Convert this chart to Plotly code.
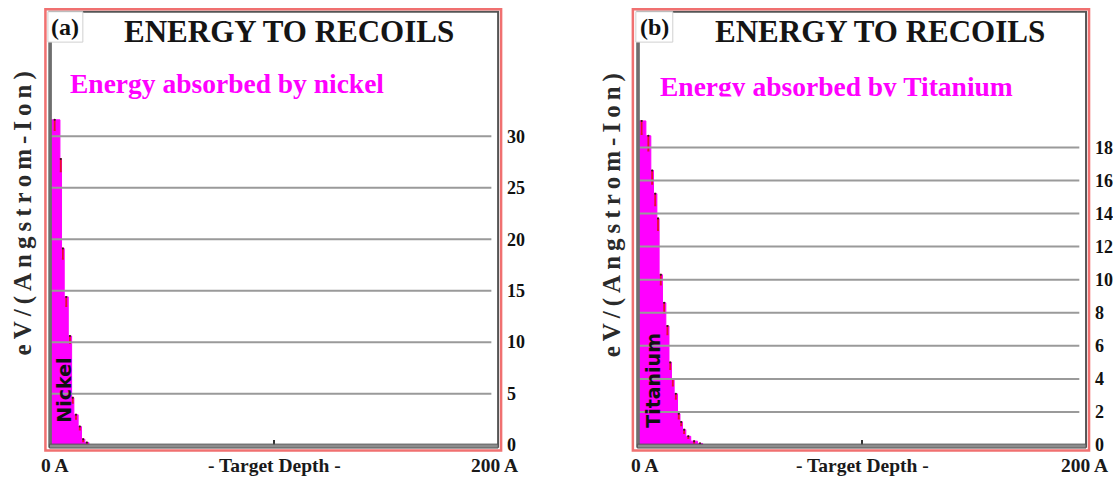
import plotly.graph_objects as go

# ---------------- data ----------------
# step profile: left edge of each depth segment (Angstrom) and energy (eV/(A-Ion))
depth_ni = [0, 4.7, 5.4, 6.6, 8.4, 9.9, 10.9, 12.8, 14.3, 15.8, 17.6]
energy_ni = [31.6, 27.8, 19.1, 14.4, 10.6, 4.6, 2.95, 1.8, 0.57, 0.25, 0]
err_ni = [1.0, 1.2, 1.0, 0.9, 0.7, 0.5, 0.4, 0.3, 0.2, 0.1]

depth_ti = [0, 3.8, 6.0, 7.2, 8.7, 9.7, 11.2, 12.7, 14.1, 15.2, 16.4, 17.9, 19.0, 20.1, 21.6, 23.8, 26.8, 29.1]
energy_ti = [19.6, 18.7, 16.6, 15.2, 13.7, 10.3, 8.6, 7.2, 5.0, 4.0, 3.1, 1.9, 1.4, 0.93, 0.53, 0.24, 0.1, 0]
err_ti = [0.8, 0.9, 0.8, 0.7, 0.7, 0.6, 0.6, 0.5, 0.4, 0.4, 0.3, 0.3, 0.2, 0.2, 0.1, 0.1, 0.1]

ticks_ni = [0, 5, 10, 15, 20, 25, 30]
ticks_ti = [0, 2, 4, 6, 8, 10, 12, 14, 16, 18]
x_ticks = [0, 100, 200]
x_labels = ["0 A", "- Target Depth -", "200 A"]

panel_tags = ["(a)", "(b)"]
titles = ["ENERGY TO RECOILS", "ENERGY TO RECOILS"]
subtitles = ["Energy absorbed by nickel", "Energy absorbed by Titanium"]
layer_names = ["Nickel", "Titanium"]
y_title = "eV/(Angstrom-Ion)"

# ---------------- layout helpers ----------------
W, H = 1113, 484
def px(x):
    return x / W
def py(y):
    return 1 - y / H

SERIF = "Liberation Serif, Times New Roman, serif"
MAGENTA = "#ff00ff"
THIN = "\u2009"

fig = go.Figure()

panels = [
    dict(xa="x", ya="y", left=49.5, right=499, red=(45.5, 502), ymax=42.1,
         depth=depth_ni, energy=energy_ni, err=err_ni, ticks=ticks_ni,
         tag_box=(48, 83), title_x=290, sub_x=68, sub_y=85, ytitle_x=24, ytitle_y=218,
         layer_xy=(64, 398), lab_x=(55, 275, 495), clip=False),
    dict(xa="x2", ya="y2", left=638.5, right=1088, red=(634, 1091), ymax=26.2,
         depth=depth_ti, energy=energy_ti, err=err_ti, ticks=ticks_ti,
         tag_box=(637, 674), title_x=882, sub_x=659, sub_y=88, ytitle_x=614, ytitle_y=220,
         layer_xy=(654, 388), lab_x=(646, 864, 1086), clip=True),
]

TOP, BOTTOM = 12, 454.5
shapes = []
annotations = []

for i, p in enumerate(panels):
    # filled step profile
    fig.add_trace(go.Scatter(
        x=p["depth"], y=p["energy"], xaxis=p["xa"], yaxis=p["ya"],
        mode="lines", line=dict(shape="hv", color=MAGENTA, width=1),
        fill="tozeroy", fillcolor=MAGENTA, showlegend=False, hoverinfo="skip"))
    # error markers at segment centres (drawn downward from the bin top)
    mids = [(a + b) / 2 for a, b in zip(p["depth"][:-1], p["depth"][1:])]
    fig.add_trace(go.Scatter(
        x=mids, y=p["energy"][:-1], xaxis=p["xa"], yaxis=p["ya"],
        mode="markers", marker=dict(size=2, color="#222"),
        error_y=dict(type="data", symmetric=False, array=[0] * len(p["err"]),
                     arrayminus=p["err"], color="#e8102e", thickness=1.8, width=1),
        showlegend=False, hoverinfo="skip"))

    xref = p["xa"]
    yref = p["ya"]
    # gridlines drawn over the fill
    for t in p["ticks"][1:]:
        shapes.append(dict(type="line", xref=xref, yref=yref, x0=0, x1=197, y0=t, y1=t,
                           line=dict(color="#9a9a9a", width=2), layer="above"))
    # plot frame (bevelled)
    L, R = p["left"], p["right"]
    shapes.append(dict(type="rect", xref="paper", yref="paper",
                       x0=px(L), x1=px(R), y0=py(456), y1=py(TOP),
                       line=dict(color="#555555", width=2), layer="above"))
    shapes.append(dict(type="rect", xref="paper", yref="paper",
                       x0=px(L - 0.5), x1=px(L + 2.5), y0=py(457), y1=py(TOP),
                       fillcolor="#6e6e6e", line=dict(width=0), layer="above"))
    shapes.append(dict(type="rect", xref="paper", yref="paper",
                       x0=px(L), x1=px(R), y0=py(457.5), y1=py(453.5),
                       fillcolor="#8c8c8c", line=dict(color="#555555", width=1), layer="above"))
    # red outer border
    shapes.append(dict(type="rect", xref="paper", yref="paper",
                       x0=px(p["red"][0]), x1=px(p["red"][1]), y0=py(460), y1=py(9.5),
                       line=dict(color="#f07070", width=2.5), layer="above"))
    # panel tag box
    tb = p["tag_box"]
    shapes.append(dict(type="rect", xref="paper", yref="paper",
                       x0=px(tb[0]), x1=px(tb[1]), y0=py(43), y1=py(12),
                       fillcolor="white", line=dict(color="#d0d0d0", width=1), layer="above"))

    annotations += [
        dict(text="<b>%s</b>" % panel_tags[i], x=px((tb[0] + tb[1]) / 2), y=py(28),
             xref="paper", yref="paper", showarrow=False, xanchor="center", yanchor="middle",
             font=dict(family=SERIF, size=24, color="#111")),
        dict(text="<b>%s</b>" % titles[i], x=px(p["title_x"]), y=py(32),
             xref="paper", yref="paper", showarrow=False, xanchor="center", yanchor="middle",
             font=dict(family=SERIF, size=31, color="#151515")),
        dict(text="<b>%s</b>" % subtitles[i], x=px(p["sub_x"]), y=py(p["sub_y"]),
             xref="paper", yref="paper", showarrow=False, xanchor="left", yanchor="middle",
             font=dict(family=SERIF, size=27.5, color=MAGENTA)),
        dict(text=THIN.join(list(y_title)), x=px(p["ytitle_x"]), y=py(p["ytitle_y"]),
             textangle=-90, xref="paper", yref="paper", showarrow=False,
             xanchor="center", yanchor="middle",
             font=dict(family=SERIF, size=25, color="#2a2a2a", weight="bold")),
        dict(text="<b>%s</b>" % layer_names[i], x=px(p["layer_xy"][0]), y=py(p["layer_xy"][1]),
             textangle=-90, xref="paper", yref="paper", showarrow=False,
             xanchor="center", yanchor="middle",
             font=dict(family="DejaVu Sans", size=19, color="#111")),
    ]
    if p["clip"]:
        # the source image has the descenders of this caption cut off
        annotations.append(dict(text=" ", x=px(p["sub_x"] - 2), y=py(103), xref="paper",
                                yref="paper", showarrow=False, xanchor="left",
                                yanchor="middle", width=370, height=8, bgcolor="white",
                                borderpad=0, font=dict(size=4)))
    for lx, lab in zip(p["lab_x"], x_labels):
        annotations.append(dict(text="<b>%s</b>" % lab, x=px(lx), y=py(475.5),
                                xref="paper", yref="paper", showarrow=False,
                                xanchor="center", yanchor="middle",
                                font=dict(family=SERIF, size=19.5, color="#1a1a1a")))

    ax = dict(domain=[px(L), px(R)], range=[0, 200], showgrid=False, zeroline=False,
              showline=False, ticks="inside", tickvals=x_ticks, ticklen=5, tickwidth=1.5,
              tickcolor="#333", showticklabels=False, fixedrange=True)
    ay = dict(domain=[py(BOTTOM), py(TOP)], range=[0, p["ymax"]], side="right",
              showgrid=False, zeroline=False, showline=False, ticks="",
              tickvals=p["ticks"], ticklabelstandoff=8, fixedrange=True,
              tickfont=dict(family=SERIF, size=18, color="#111", weight="bold"))
    if i == 0:
        fig.update_layout(xaxis=dict(ax, anchor="y"), yaxis=dict(ay, anchor="x"))
    else:
        fig.update_layout(xaxis2=dict(ax, anchor="y2"), yaxis2=dict(ay, anchor="x2"))

fig.update_layout(
    width=W, height=H, margin=dict(l=0, r=0, t=0, b=0),
    paper_bgcolor="white", plot_bgcolor="white",
    shapes=shapes, annotations=annotations, showlegend=False,
)

fig.write_html("out.html", config={"displayModeBar": False})
